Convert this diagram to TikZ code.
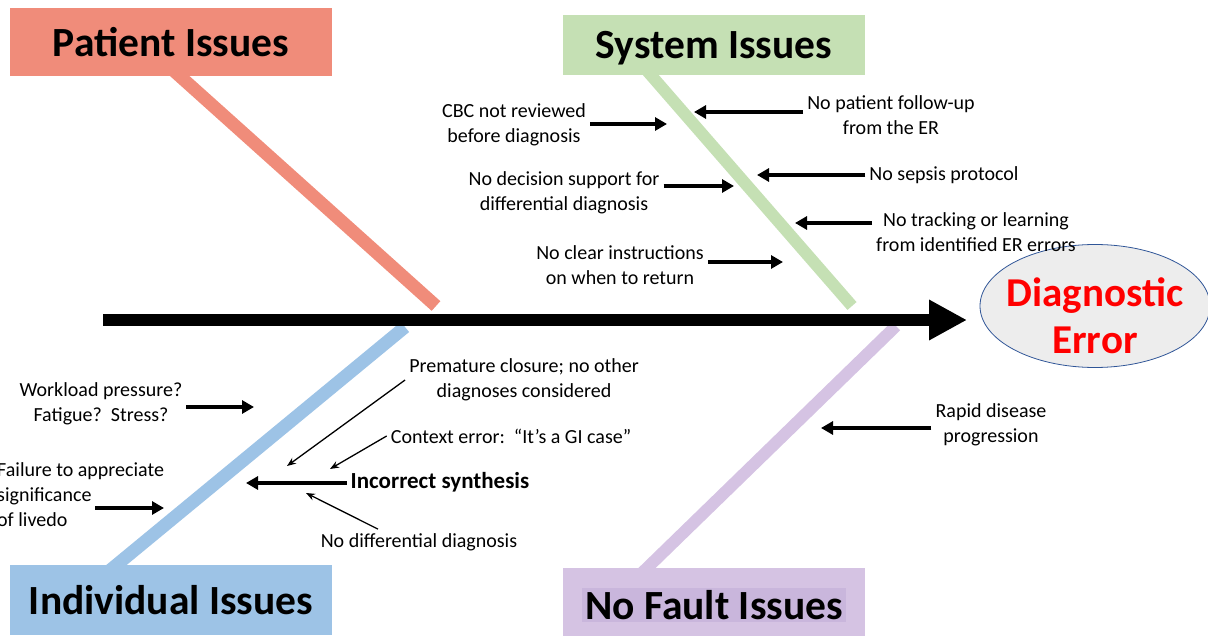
\documentclass[tikz,border=0pt]{standalone}
\usepackage{fontspec}
\setmainfont{Carlito}
\usetikzlibrary{arrows.meta,shapes.geometric,backgrounds}

\definecolor{patcol}{HTML}{F08C7A}
\definecolor{syscol}{HTML}{C5E0B4}
\definecolor{indcol}{HTML}{9DC3E6}
\definecolor{nfcol}{HTML}{D5C3E3}
\definecolor{nfdark}{HTML}{C9B6DC}
\definecolor{errfill}{HTML}{EDEDED}
\definecolor{errline}{HTML}{2F5597}

\begin{document}
\begin{tikzpicture}[x=1pt, y=-1pt,
  headbox/.style={inner sep=0pt, text depth=0pt, font=\fontsize{41.5}{48}\selectfont\bfseries},
  causetxt/.style={align=center, inner sep=4pt, font=\fontsize{20}{25}\selectfont},
  cause/.style={line width=4pt, -{Triangle[length=12pt,width=13pt]}},
  hint/.style={line width=1.3pt, -{Stealth[length=9pt,width=7pt]}},
  bone/.style={line width=13pt}
]
\useasboundingbox (0,0) rectangle (1208,636);

\node[headbox, fill=patcol, minimum width=322pt, minimum height=68pt] (pat) at (171,42) {Patient Issues};
\node[headbox, fill=syscol, minimum width=302pt, minimum height=60pt] (sys) at (714,45) {System Issues};
\node[headbox, fill=indcol, minimum width=322pt, minimum height=70pt] (ind) at (171,600) {Individual Issues};
\node[headbox, fill=nfcol, minimum width=302pt, minimum height=68pt] (nf) at (714,602) {};
\node[headbox, fill=nfdark, minimum width=264pt, minimum height=34pt] (nflbl) at (714,605) {No Fault Issues};

\node[ellipse, draw=errline, fill=errfill, line width=0.8pt, minimum width=230pt, minimum height=123pt, inner sep=0pt] (err) at (1095,306) {};
\node[align=center, text=red, font=\fontsize{41}{47}\selectfont\bfseries] (errlbl) at (1095,316) {Diagnostic\\Error};

\coordinate (tail) at (103,320);
\coordinate (head) at (967,320);
\draw[line width=12pt, -{Triangle[length=38pt,width=38pt]}] (tail) -- (head);

\coordinate (pend) at (436,306);
\coordinate (send) at (852,306);
\coordinate (iend) at (405,327);
\coordinate (nend) at (896,326);
\begin{scope}[on background layer]
\draw[bone, patcol] ([yshift=8pt]pat.south) -- (pend);
\draw[bone, syscol, line width=12pt] ([xshift=-70pt, yshift=8pt]sys.south) -- (send);
\draw[bone, indcol] ([xshift=-64pt, yshift=-8pt]ind.north) -- (iend);
\draw[bone, nfcol, line width=12pt] ([xshift=-75pt, yshift=-8pt]nf.north) -- (nend);
\end{scope}

\node[causetxt] (cbc) at (514,125) {CBC not reviewed\\before diagnosis};
\node[causetxt] (follow) at (891,115) {No patient follow-up\\from the ER};
\node[causetxt] (decision) at (564,193) {No decision support for\\differential diagnosis};
\node[causetxt] (sepsis) at (944,175) {No sepsis protocol};
\node[causetxt] (tracking) at (976,232) {No tracking or learning\\from identified ER errors};
\node[causetxt] (clear) at (620,265) {No clear instructions\\on when to return};
\node[causetxt] (workload) at (101,404) {Workload pressure?\\Fatigue?\ \ Stress?};
\node[causetxt, align=left, anchor=west] (failure) at (-7,495) {Failure to appreciate\\significance\\of livedo};
\node[causetxt, font=\fontsize{23}{27}\selectfont\bfseries] (synth) at (440,482) {Incorrect synthesis};
\node[causetxt] (premature) at (524,380) {Premature closure; no other\\diagnoses considered};
\node[causetxt] (context) at (511,436) {Context error:\ \ “It’s a GI case”};
\node[causetxt] (nodiff) at (419,542) {No differential diagnosis};
\node[causetxt] (rapid) at (991,425) {Rapid disease\\progression};

\coordinate (s1) at (667,124);
\coordinate (s2) at (694,112);
\coordinate (s3) at (734,186);
\coordinate (s4) at (757,175);
\coordinate (s5) at (795,223);
\coordinate (s6) at (783,262);
\coordinate (i7) at (254,407);
\coordinate (i8) at (164,508);
\coordinate (i9) at (246,483);
\coordinate (i10) at (287,466);
\coordinate (i11) at (330,469);
\coordinate (i12) at (306,493);
\coordinate (n13) at (821,428);

\draw[cause] (cbc.east |- s1) -- (s1);
\draw[cause] (follow.west |- s2) -- (s2);
\draw[cause] (decision.east |- s3) -- (s3);
\draw[cause] (sepsis.west |- s4) -- (s4);
\draw[cause] (tracking.west |- s5) -- (s5);
\draw[cause] (clear.east |- s6) -- (s6);
\draw[cause] (workload.east |- i7) -- (i7);
\draw[cause] ([xshift=102pt]failure.west |- i8) -- (i8);
\draw[cause] (synth.west |- i9) -- (i9);
\draw[hint] (premature.west) -- (i10);
\draw[hint] (context.west) -- (i11);
\draw[hint] ([xshift=-41pt]nodiff.north) -- (i12);
\draw[cause] (rapid.west |- n13) -- (n13);
\end{tikzpicture}
\end{document}
